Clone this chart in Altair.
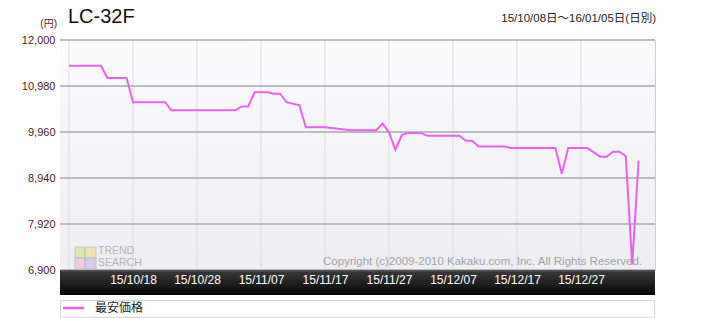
import altair as alt
import pandas as pd

# ---------------- data ----------------
title_text = "LC-32F"
range_text = "15/10/08日～16/01/05日(日別)"
unit_text = "(円)"
legend_label = "最安価格"
copyright_text = "Copyright (c)2009-2010 Kakaku.com, Inc. All Rights Reserved."
wm_line1 = "TREND"
wm_line2 = "SEARCH"

dates = [
    "2015-10-08", "2015-10-13", "2015-10-14", "2015-10-17", "2015-10-18",
    "2015-10-23", "2015-10-24", "2015-11-03", "2015-11-04", "2015-11-05",
    "2015-11-06", "2015-11-08", "2015-11-09", "2015-11-10", "2015-11-11",
    "2015-11-13", "2015-11-14", "2015-11-17", "2015-11-21", "2015-11-25",
    "2015-11-26", "2015-11-27", "2015-11-28", "2015-11-29", "2015-11-30",
    "2015-12-02", "2015-12-03", "2015-12-08", "2015-12-09", "2015-12-10",
    "2015-12-11", "2015-12-15", "2015-12-16", "2015-12-23", "2015-12-24",
    "2015-12-25", "2015-12-28", "2015-12-30", "2015-12-31", "2016-01-01",
    "2016-01-02", "2016-01-03", "2016-01-04", "2016-01-05",
]
prices = [
    11430, 11430, 11160, 11160, 10620,
    10620, 10440, 10440, 10527, 10527,
    10840, 10840, 10810, 10810, 10620,
    10550, 10066, 10066, 10000, 10000,
    10147, 9949, 9567, 9890, 9940,
    9940, 9875, 9875, 9765, 9765,
    9641, 9641, 9604, 9604, 9033,
    9604, 9604, 9413, 9413, 9523,
    9523, 9422, 7017, 9325,
]

y_ticks = [6900, 7920, 8940, 9960, 10980, 12000]
x_ticks = ["2015-10-08", "2015-10-18", "2015-10-28", "2015-11-07", "2015-11-17",
           "2015-11-27", "2015-12-07", "2015-12-17", "2015-12-27"]

# ---------------- layout / style ----------------
W, H = 595, 230
LINE_COLOR = "#ea60f0"
LABEL_COLOR = "#4e1c1c"
JP = "Liberation Sans, Noto Sans CJK JP"


def dt(s, hours=0, minutes=0):
    y, m, d = (int(p) for p in s.split("-"))
    return alt.DateTime(year=y, month=m, date=d, hours=hours, minutes=minutes)


df = pd.DataFrame({"date": [d + "T00:00:00" for d in dates], "price": prices})
df_x = pd.DataFrame({"date": [d + "T00:00:00" for d in x_ticks]})
df_y = pd.DataFrame({"price": y_ticks})
one = pd.DataFrame({"a": [0]})

xscale = alt.Scale(domain=[dt("2015-10-06", 14, 4), dt("2016-01-07", 13, 30)], nice=False)
yscale = alt.Scale(domain=[6900, 12000], nice=False, zero=False)

xaxis = alt.Axis(values=[dt(d) for d in x_ticks], format="%y/%m/%d",
                 labelExpr="datum.index == 0 ? '' : datum.label",
                 title=None, grid=False, domain=False, ticks=False,
                 labelColor="white", labelFontSize=12, labelPadding=4,
                 labelOverlap=False, labelFont="Liberation Sans", zindex=2)
yaxis = alt.Axis(values=y_ticks, format=",.0f", title=None, grid=False, domain=False,
                 ticks=False, labelColor=LABEL_COLOR, labelFontSize=11, labelPadding=5,
                 labelOverlap=False, labelFont="Liberation Sans", zindex=2)

X = alt.X("date:T", scale=xscale, axis=xaxis, title=None)
Y = alt.Y("price:Q", scale=yscale, axis=yaxis, title=None)

bg_grad = alt.Gradient(gradient="linear", x1=0, x2=0, y1=0, y2=1,
                       stops=[alt.GradientStop(color="#fcfcfd", offset=0),
                              alt.GradientStop(color="#ededf3", offset=1)])
band_grad = alt.Gradient(gradient="linear", x1=0, x2=0, y1=0, y2=1,
                         stops=[alt.GradientStop(color="#5a5a5a", offset=0),
                                alt.GradientStop(color="#363636", offset=0.1),
                                alt.GradientStop(color="#1c1c1c", offset=0.6),
                                alt.GradientStop(color="#000000", offset=1)])

bg = alt.Chart(one).mark_rect(color=bg_grad).encode(
    x=alt.value(0), x2=alt.value(W), y=alt.value(0), y2=alt.value(H))

vgrid = alt.Chart(df_x).mark_rule(color="#dcdcdc", strokeWidth=1).encode(x=X)

hgrid = alt.Chart(df_y).mark_rule(color="#a9a9a9", strokeWidth=1.5).encode(y=Y)

# watermark logo (decoration)
logo_parts = [
    (15, 207, 25, 218, "#d6e6a8"),
    (25, 207, 36, 218, "#efe2a0"),
    (15, 218, 25, 229, "#f2c4d4"),
    (25, 218, 36, 229, "#cdc2f0"),
]
logo_layers = []
for x0, y0, x1, y1, c in logo_parts:
    logo_layers.append(
        alt.Chart(one).mark_rect(color=c, stroke="#bdbdbd", strokeWidth=1, opacity=0.8).encode(
            x=alt.value(x0), x2=alt.value(x1), y=alt.value(y0), y2=alt.value(y1)))

wm1 = alt.Chart(one).mark_text(text=wm_line1, align="left", baseline="middle", fontSize=10.5,
                               color="#b4b4b4", font="Liberation Sans").encode(
    x=alt.value(38), y=alt.value(211))
wm2 = alt.Chart(one).mark_text(text=wm_line2, align="left", baseline="middle", fontSize=10.5,
                               color="#b4b4b4", font="Liberation Sans").encode(
    x=alt.value(38), y=alt.value(223))

copyright_mark = alt.Chart(one).mark_text(text=copyright_text, align="right", baseline="middle",
                                          fontSize=11.5, color="#a4a4a4",
                                          font="Liberation Sans").encode(
    x=alt.value(582), y=alt.value(222))

band = alt.Chart(one).mark_rect(color=band_grad).encode(
    x=alt.value(0), x2=alt.value(W), y=alt.value(H), y2=alt.value(H + 25))

line = alt.Chart(df).mark_line(color=LINE_COLOR, strokeWidth=2).encode(x=X, y=Y)

legend_box = alt.Chart(one).mark_rect(fill="white", stroke="#d6d6d6", strokeWidth=1).encode(
    x=alt.value(0.5), x2=alt.value(W - 0.5), y=alt.value(H + 30.5), y2=alt.value(H + 47.5))
legend_swatch = alt.Chart(one).mark_rule(color=LINE_COLOR, strokeWidth=2.5).encode(
    x=alt.value(3), x2=alt.value(24), y=alt.value(H + 38))
legend_text = alt.Chart(one).mark_text(text=legend_label, align="left", baseline="middle",
                                       fontSize=12, color="#222222",
                                       font="Noto Sans CJK JP").encode(
    x=alt.value(35), y=alt.value(H + 38))

title_mark = alt.Chart(one).mark_text(text=title_text, align="left", baseline="alphabetic",
                                      fontSize=20, color="#111111",
                                      font="Liberation Sans").encode(
    x=alt.value(8), y=alt.value(-17))
unit_mark = alt.Chart(one).mark_text(text=unit_text, align="right", baseline="middle",
                                     fontSize=10, color=LABEL_COLOR, font=JP).encode(
    x=alt.value(-3), y=alt.value(-16))
range_mark = alt.Chart(one).mark_text(text=range_text, align="right", baseline="middle",
                                      fontSize=11.5, color="#222222", font=JP).encode(
    x=alt.value(596), y=alt.value(-21))

chart = alt.layer(
    bg, vgrid, hgrid, *logo_layers, wm1, wm2, copyright_mark, band, line,
    legend_box, legend_swatch, legend_text, title_mark, unit_mark, range_mark,
).properties(
    width=W, height=H, autosize="none",
    padding={"left": 60, "top": 40, "right": 60, "bottom": 48},
    background="white",
).configure_view(stroke="#cfcfcf", strokeWidth=1)

chart.save("out.html", embed_options={"renderer": "svg", "actions": False})
